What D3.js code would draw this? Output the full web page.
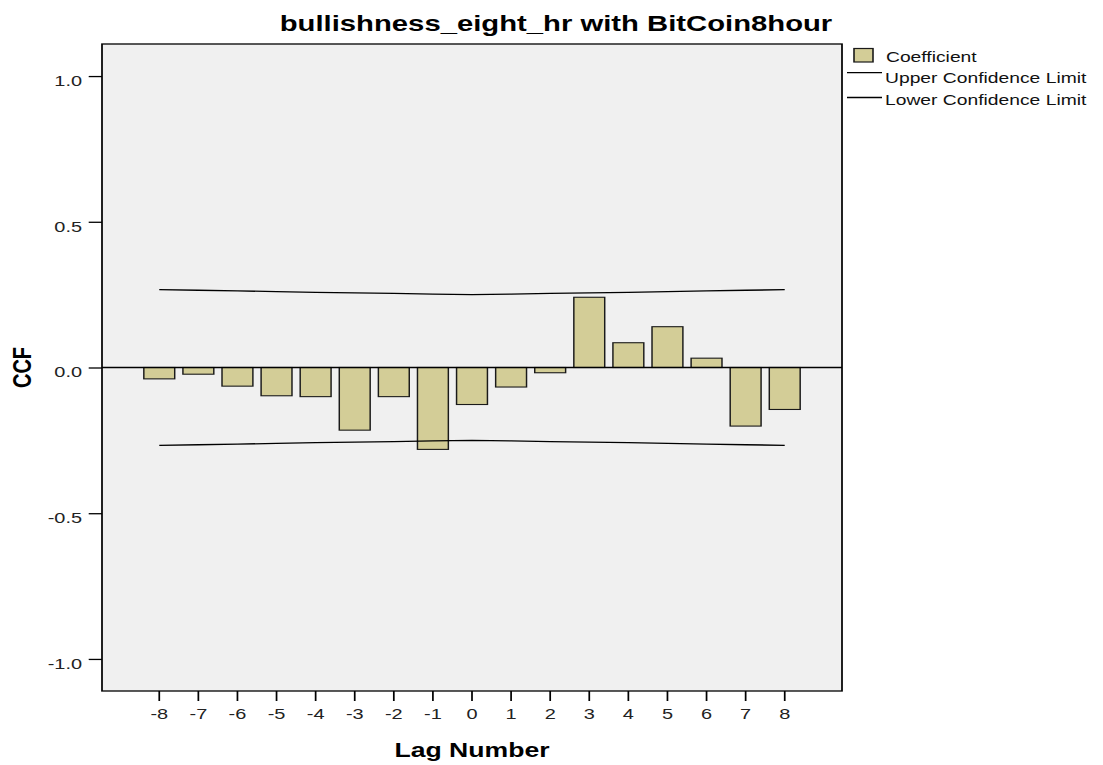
<!DOCTYPE html>
<html>
<head>
<meta charset="utf-8">
<script src="https://cdn.jsdelivr.net/npm/d3@7"></script>
<style>
  html, body { margin: 0; padding: 0; background: #ffffff; }
  svg { display: block; font-family: "Liberation Sans", Arial, sans-serif; }
</style>
</head>
<body>
<svg id="chart" width="1103" height="765"></svg>
<script>
// ---- data ----
const lags = [-8, -7, -6, -5, -4, -3, -2, -1, 0, 1, 2, 3, 4, 5, 6, 7, 8];
const coefficients = [-0.039, -0.023, -0.064, -0.097, -0.100, -0.215, -0.100, -0.281, -0.127,
                      -0.067, -0.018, 0.241, 0.085, 0.140, 0.032, -0.201, -0.144];
const upperLimit = [0.267, 0.265, 0.263, 0.260, 0.258, 0.256, 0.254, 0.252, 0.250,
                    0.252, 0.254, 0.256, 0.258, 0.260, 0.263, 0.265, 0.267];
const lowerLimit = [-0.267, -0.265, -0.263, -0.260, -0.258, -0.256, -0.254, -0.252, -0.250,
                    -0.252, -0.254, -0.256, -0.258, -0.260, -0.263, -0.265, -0.267];
const yTicks = [-1.0, -0.5, 0.0, 0.5, 1.0];
const yTickLabels = ["-1.0", "-0.5", "0.0", "0.5", "1.0"];
const legendLabels = ["Coefficient", "Upper Confidence Limit", "Lower Confidence Limit"];
const titleText = "bullishness_eight_hr with BitCoin8hour";
const xTitle = "Lag Number";
const yTitle = "CCF";

// ---- layout (horizontal stretch like the reference) ----
const SX = 1.33;
const L = 102 / SX, R = 842 / SX, T = 44, B = 691;

const svg = d3.select("#chart");
const g = svg.append("g").attr("transform", `scale(${SX},1)`);

const x = d3.scaleBand().domain(lags).range([L, R]).paddingInner(0.21).paddingOuter(1.07);
const y = d3.scaleLinear().domain([-1.11, 1.11]).range([B, T]);

// plot background
g.append("rect").attr("x", L).attr("y", T).attr("width", R - L).attr("height", B - T)
  .attr("fill", "#f0f0f0");

// bars
const rows = lags.map((k, i) => ({ k, v: coefficients[i], u: upperLimit[i], l: lowerLimit[i] }));
g.append("g").selectAll("rect").data(rows).join("rect")
  .attr("x", d => x(d.k))
  .attr("width", x.bandwidth())
  .attr("y", d => y(Math.max(0, d.v)))
  .attr("height", d => Math.abs(y(d.v) - y(0)))
  .attr("fill", "#d3cd97")
  .attr("stroke", "#1a1a1a")
  .attr("stroke-width", 1.1);

// zero line
g.append("line").attr("x1", L).attr("x2", R).attr("y1", y(0)).attr("y2", y(0))
  .attr("stroke", "#000").attr("stroke-width", 1.4);

// confidence limits
const line = key => d3.line().x(d => x(d.k) + x.bandwidth() / 2).y(d => y(d[key]));
["u", "l"].forEach(key => {
  g.append("path").datum(rows).attr("d", line(key))
    .attr("fill", "none").attr("stroke", "#000").attr("stroke-width", 1.3);
});

// frame
g.append("rect").attr("x", L).attr("y", T).attr("width", R - L).attr("height", B - T)
  .attr("fill", "none").attr("stroke", "#000").attr("stroke-width", 1.3);

// y axis
const yAxis = d3.axisLeft(y).tickValues(yTicks).tickSize(10).tickPadding(5)
  .tickFormat((d, i) => yTickLabels[i]);
const ya = g.append("g").attr("transform", `translate(${L},0)`).call(yAxis);
ya.select(".domain").remove();
ya.selectAll(".tick line").attr("stroke", "#000").attr("stroke-width", 1.3);
ya.selectAll(".tick text").attr("font-size", 15).attr("fill", "#222")
  .attr("font-family", "Liberation Sans, Arial, sans-serif").attr("dy", "0.62em");

// x axis
const xAxis = d3.axisBottom(x).tickSize(10).tickPadding(7);
const xa = g.append("g").attr("transform", `translate(0,${B})`).call(xAxis);
xa.select(".domain").remove();
xa.selectAll(".tick line").attr("stroke", "#000").attr("stroke-width", 1.3);
xa.selectAll(".tick text").attr("font-size", 15).attr("fill", "#222")
  .attr("font-family", "Liberation Sans, Arial, sans-serif");

// titles
g.append("text").attr("x", 556 / SX).attr("y", 31).attr("text-anchor", "middle")
  .attr("font-size", 22).attr("font-weight", "bold").attr("fill", "#000").text(titleText);
g.append("text").attr("x", 472 / SX).attr("y", 757).attr("text-anchor", "middle")
  .attr("font-size", 20).attr("font-weight", "bold").attr("fill", "#000").text(xTitle);
g.append("text").attr("transform", `translate(${31 / SX},${367.5}) rotate(-90)`)
  .attr("text-anchor", "middle")
  .attr("font-size", 20).attr("font-weight", "bold").attr("fill", "#000").text(yTitle);

// legend
const lg = g.append("g");
lg.append("rect").attr("x", 854 / SX).attr("y", 48.5).attr("width", 19 / SX).attr("height", 13.5)
  .attr("fill", "#d3cd97").attr("stroke", "#1a1a1a").attr("stroke-width", 1.2);
lg.append("text").attr("x", 886 / SX).attr("y", 62).attr("font-size", 14.5).attr("fill", "#111")
  .text(legendLabels[0]);
[[72.7, 83.5], [97.5, 105.5]].forEach(([ly, ty], i) => {
  lg.append("line").attr("x1", 847 / SX).attr("x2", 882 / SX).attr("y1", ly).attr("y2", ly)
    .attr("stroke", "#000").attr("stroke-width", 1.3);
  lg.append("text").attr("x", 885 / SX).attr("y", ty).attr("font-size", 14.5).attr("fill", "#111")
    .text(legendLabels[i + 1]);
});
</script>
</body>
</html>
